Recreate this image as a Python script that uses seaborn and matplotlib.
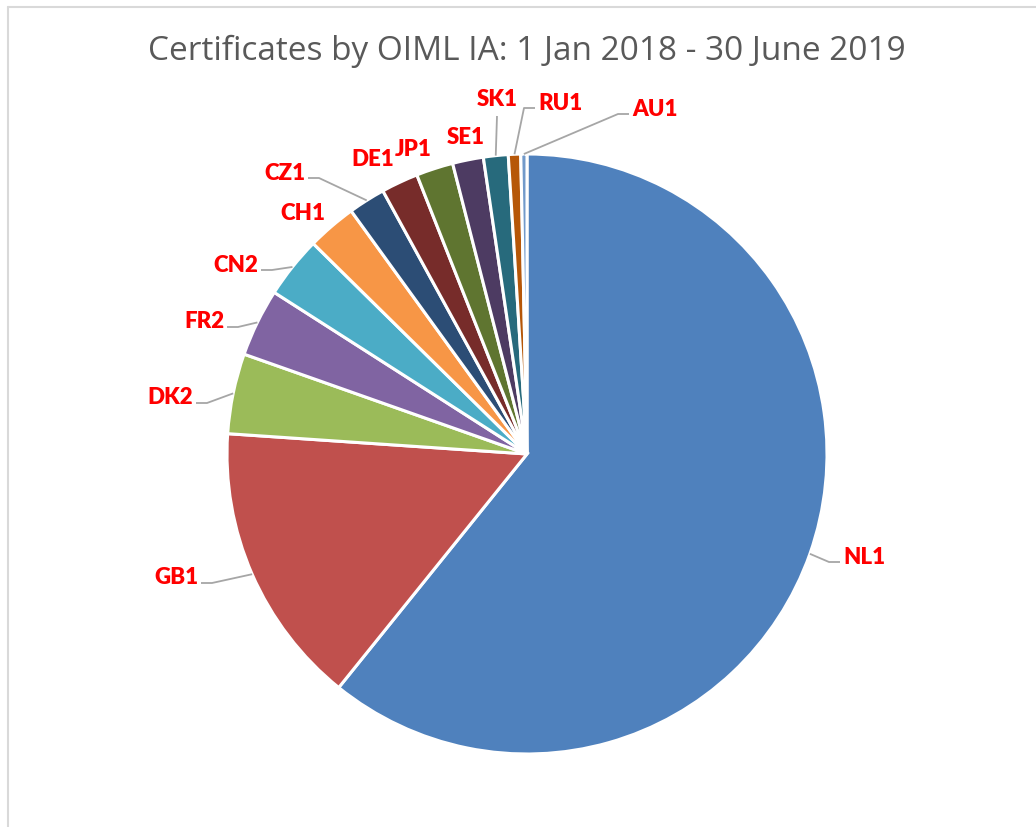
import numpy as np
import matplotlib
matplotlib.use('Agg')
from matplotlib import pyplot as plt
from matplotlib.lines import Line2D
import seaborn as sns

sns.set_theme(style='white')
plt.rcParams['font.family'] = ['Lato', 'DejaVu Sans']

# certificates per issuing authority
labels = ['NL1', 'GB1', 'DK2', 'FR2', 'CN2', 'CH1', 'CZ1', 'DE1', 'JP1', 'SE1', 'SK1', 'RU1', 'AU1']
counts = [183, 46, 13, 11, 10, 8, 6, 6, 6, 5, 4, 2, 1]
colors = ['#4F81BD', '#C0504D', '#9BBB59', '#8064A2', '#4BACC6', '#F79646', '#2C4D75',
          '#772C2A', '#5F7530', '#4D3B62', '#276A7C', '#B65708', '#729ACA']
title = 'Certificates by OIML IA: 1 Jan 2018 - 30 June 2019'

# label placement (pixels in the 1036x828 image), alignment, leader line or not
label_pos = {
    'NL1': (843, 557, 'left', True),
    'GB1': (198, 578, 'right', True),
    'DK2': (193, 398, 'right', True),
    'FR2': (224, 322, 'right', True),
    'CN2': (258, 265, 'right', True),
    'CH1': (303, 213, 'center', False),
    'CZ1': (305, 173, 'right', True),
    'DE1': (373, 160, 'center', False),
    'JP1': (413, 149, 'center', False),
    'SE1': (466, 138, 'center', False),
    'SK1': (497, 100, 'center', True),
    'RU1': (538, 103, 'left', True),
    'AU1': (632, 109, 'left', True),
}

W, H = 1036, 828
cx, cy, R = 527, 455, 300

fig = plt.figure(figsize=(W / 100, H / 100), dpi=100)
fig.patch.set_facecolor('white')
ax = fig.add_axes([(cx - 400) / W, (H - cy - 400) / H, 800 / W, 800 / H])

wedges, _ = ax.pie(counts, colors=colors, startangle=90, counterclock=False,
                   radius=1.0, wedgeprops=dict(edgecolor='white', linewidth=2.2))
# pie() resets the limits, so set them afterwards
ax.set_xlim(-400 / R, 400 / R)
ax.set_ylim(-400 / R, 400 / R)
ax.set_aspect('equal')
ax.axis('off')


def to_data(px, py):
    return (px - cx) / R, (cy - py) / R


for w, lab in zip(wedges, labels):
    px, py, ha, leader = label_pos[lab]
    tx, ty = to_data(px, py)
    ax.text(tx, ty, lab, color='#FF0000', fontsize=16, fontweight='heavy',
            ha=ha, va='center')
    if not leader:
        continue
    mid = np.deg2rad((w.theta1 + w.theta2) / 2)
    sx, sy = np.cos(mid), np.sin(mid)
    if ha == 'center':
        ex, ey = tx, ty - 17 / R
        xs, ys = [sx, ex], [sy, ey]
    else:
        sgn = 1 if ha == 'left' else -1
        ex, ey = tx - sgn * 3 / R, ty - 6 / R
        kx = ex - sgn * 11 / R
        xs, ys = [sx, kx, ex], [sy, ey, ey]
    ax.plot(xs, ys, color='#A6A6A6', lw=1.3, solid_capstyle='butt')

fig.text(cx / W, 1 - 51 / H, title, ha='center', va='center', fontsize=24,
         color='#595959', family=['Open Sans', 'DejaVu Sans'])

# chart frame (left and top edges visible in the crop)
fig.add_artist(Line2D([7.5 / W, 7.5 / W], [0, 1 - 8 / H], color='#D9D9D9', lw=1.5))
fig.add_artist(Line2D([7.5 / W, 1], [1 - 8 / H, 1 - 8 / H], color='#D9D9D9', lw=1.5))

fig.savefig('out.png', dpi=100)
